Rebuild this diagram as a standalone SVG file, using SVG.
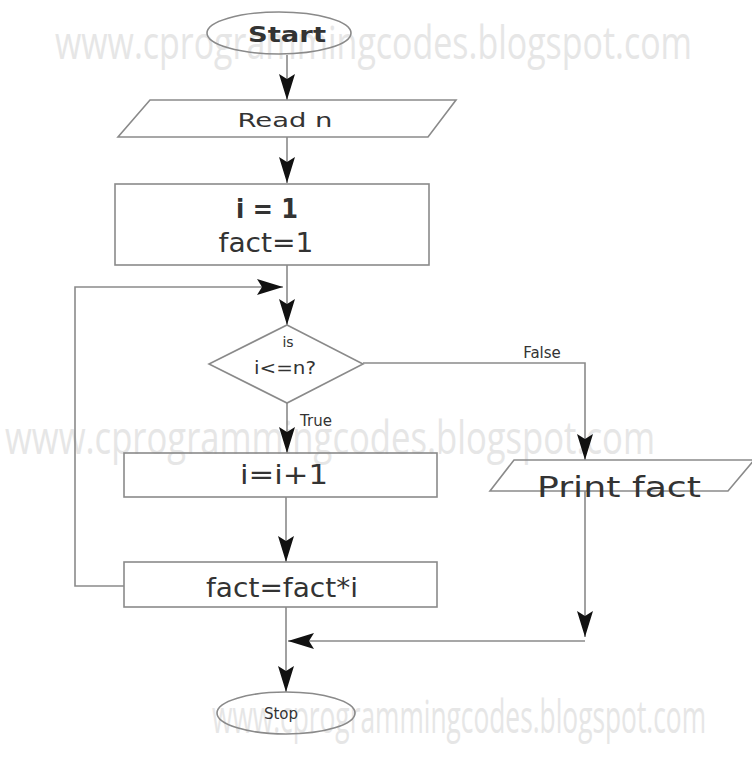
<svg xmlns="http://www.w3.org/2000/svg" width="752" height="757" viewBox="0 0 752 757">
  <style>
    .shape { fill: none; stroke: #8a8a8a; stroke-width: 1.6; }
    .wire { fill: none; stroke: #8a8a8a; stroke-width: 1.6; }
    .lbl { font-family: "DejaVu Sans", Verdana, sans-serif; fill: #333; text-anchor: middle; }
    .wm { font-family: "Open Sans", "Liberation Sans", sans-serif; fill: #e6e6e6; font-size: 46px; }
  </style>
  <defs>
    <marker id="arrow" markerUnits="userSpaceOnUse" viewBox="0 0 26 18" markerWidth="26" markerHeight="18" refX="26" refY="9" orient="auto">
      <path d="M0,1 L26,9 L0,17 L5,9 Z" fill="#111"/>
    </marker>
  </defs>

  <rect width="752" height="757" fill="#fff"/>

  <!-- watermark lines -->
  <g id="watermark">
    <text class="wm" x="55" y="59" textLength="637" lengthAdjust="spacingAndGlyphs">www.cprogrammingcodes.blogspot.com</text>
    <text class="wm" x="5" y="454" textLength="650" lengthAdjust="spacingAndGlyphs">www.cprogrammingcodes.blogspot.com</text>
    <text class="wm" x="212" y="733" textLength="494" lengthAdjust="spacingAndGlyphs">www.cprogrammingcodes.blogspot.com</text>
  </g>

  <!-- connectors -->
  <g id="connectors">
    <path class="wire" d="M287,55 V100" marker-end="url(#arrow)"/>
    <path class="wire" d="M287,137 V183" marker-end="url(#arrow)"/>
    <path class="wire" d="M287,265 V325" marker-end="url(#arrow)"/>
    <path class="wire" d="M124,586 H75 V287 H283" marker-end="url(#arrow)"/>
    <path class="wire" d="M287,403 V453" marker-end="url(#arrow)"/>
    <path class="wire" d="M363,363 H585 V460" marker-end="url(#arrow)"/>
    <path class="wire" d="M286,497 V562" marker-end="url(#arrow)"/>
    <path class="wire" d="M585,491 V637" marker-end="url(#arrow)"/>
    <path class="wire" d="M585,641 H288" marker-end="url(#arrow)"/>
    <path class="wire" d="M286,607 V692" marker-end="url(#arrow)"/>
    <text class="lbl" x="542" y="358" font-size="15">False</text>
    <text class="lbl" x="316" y="426" font-size="15">True</text>
  </g>

  <g id="start">
    <ellipse class="shape" cx="279" cy="33" rx="72" ry="21"/>
    <text class="lbl" x="287" y="42" font-size="22" font-weight="bold" textLength="78" lengthAdjust="spacingAndGlyphs">Start</text>
  </g>

  <g id="read-n">
    <polygon class="shape" points="150,100 456,100 428,137 118,137"/>
    <text class="lbl" x="285" y="127" font-size="20" textLength="95" lengthAdjust="spacingAndGlyphs">Read n</text>
  </g>

  <g id="init">
    <rect class="shape" x="115" y="184" width="314" height="81"/>
    <text class="lbl" x="267" y="218" font-size="26" font-weight="bold" textLength="62" lengthAdjust="spacingAndGlyphs">i = 1</text>
    <text class="lbl" x="266" y="252" font-size="27" textLength="95" lengthAdjust="spacingAndGlyphs">fact=1</text>
  </g>

  <g id="test">
    <polygon class="shape" points="287,325 363,364 287,403 209,364"/>
    <text class="lbl" x="288" y="347" font-size="14">is</text>
    <text class="lbl" x="285" y="374" font-size="18" textLength="62" lengthAdjust="spacingAndGlyphs">i&lt;=n?</text>
  </g>

  <g id="increment">
    <rect class="shape" x="124" y="453" width="313" height="44"/>
    <text class="lbl" x="284" y="484" font-size="26" textLength="88" lengthAdjust="spacingAndGlyphs">i=i+1</text>
  </g>

  <g id="multiply">
    <rect class="shape" x="124" y="562" width="313" height="45"/>
    <text class="lbl" x="282" y="597" font-size="27" textLength="152" lengthAdjust="spacingAndGlyphs">fact=fact*i</text>
  </g>

  <g id="print">
    <polygon class="shape" points="514,460 754,460 728,491 490,491"/>
    <text class="lbl" x="619" y="497" font-size="28" textLength="164" lengthAdjust="spacingAndGlyphs">Print fact</text>
  </g>

  <g id="stop">
    <ellipse class="shape" cx="286" cy="713" rx="69" ry="21"/>
    <text class="lbl" x="281" y="719" font-size="15">Stop</text>
  </g>
</svg>
